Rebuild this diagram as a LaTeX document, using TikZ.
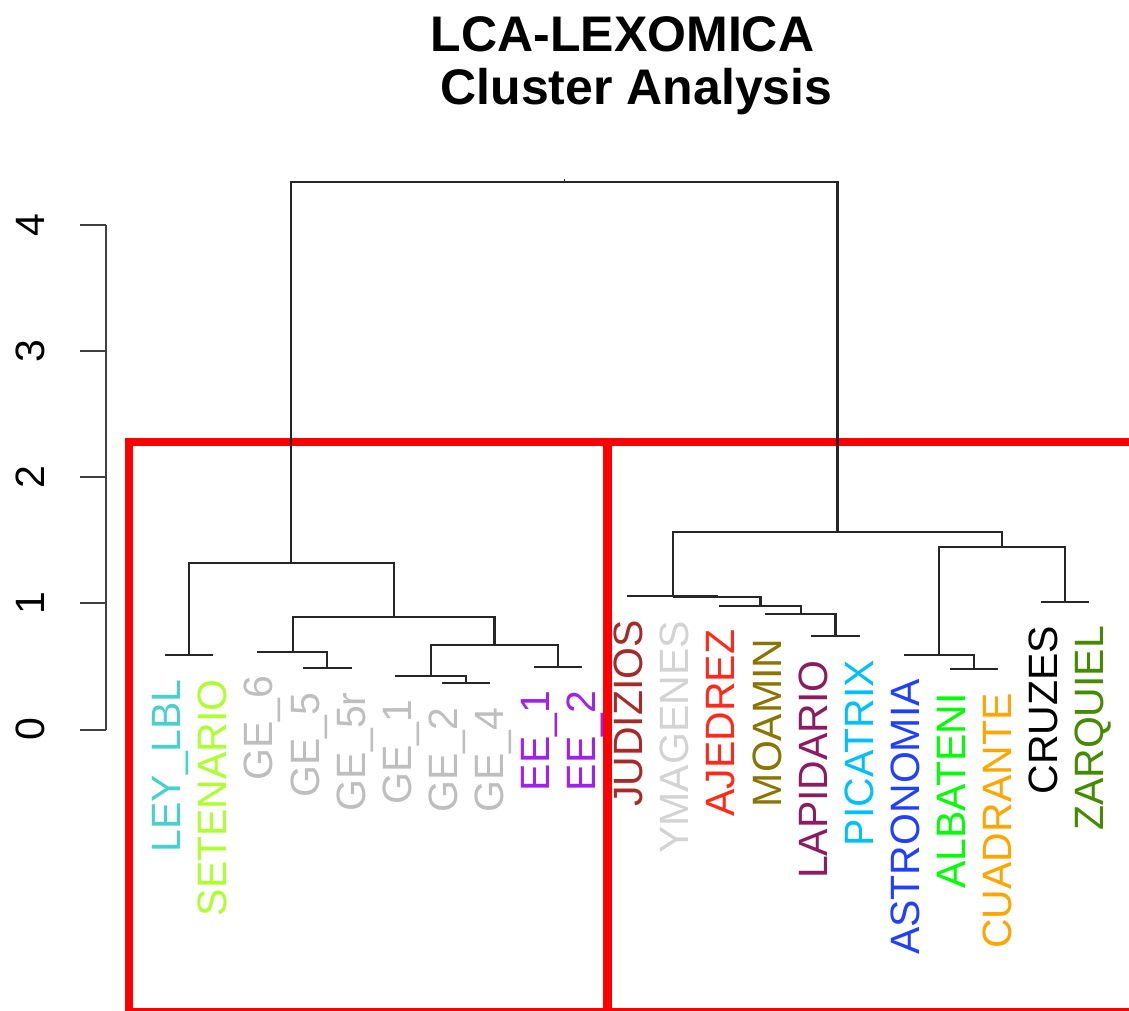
\documentclass[tikz,border=0pt]{standalone}
\usepackage{fontspec}
\setmainfont{Liberation Sans}
\definecolor{cLEY}{HTML}{48D1CC}
\definecolor{cSET}{HTML}{ADFF2F}
\definecolor{cGE}{HTML}{BEBEBE}
\definecolor{cEE}{HTML}{A020F0}
\definecolor{cJUD}{HTML}{A52A2A}
\definecolor{cYMA}{HTML}{D3D3D3}
\definecolor{cAJE}{HTML}{FF2A1A}
\definecolor{cMOA}{HTML}{8B7500}
\definecolor{cLAP}{HTML}{8B1C62}
\definecolor{cPIC}{HTML}{00BFFF}
\definecolor{cAST}{HTML}{2040FF}
\definecolor{cALB}{HTML}{00FF00}
\definecolor{cCUA}{HTML}{FFA500}
\definecolor{cCRU}{HTML}{000000}
\definecolor{cZAR}{HTML}{458B00}
\begin{document}
\begin{tikzpicture}[x=1pt,y=-1pt,
  edge/.style={line width=2.2pt, black!85, line cap=rect},
  lab/.style={rotate=90, anchor=base east, inner sep=0pt, font=\fontsize{41}{41}\selectfont},
  ticklab/.style={rotate=90, anchor=base, inner sep=0pt, font=\fontsize{41}{41}\selectfont},
  titlefont/.style={anchor=base, inner sep=0pt, font=\fontsize{50}{50}\selectfont\bfseries},
  redbox/.style={draw=red, line width=8.5pt},
  axisline/.style={line width=2pt, black!75}]
\useasboundingbox (0,0) rectangle (1129,1010);

% ---------- title ----------
\node[titlefont] (title1) at (622.5,51) {LCA-LEXOMICA};
\node[titlefont] (title2) at (636.5,104) {Cluster Analysis};

% ---------- axis ----------
\coordinate (a4) at (106,225);
\coordinate (a3) at (106,351);
\coordinate (a2) at (106,477);
\coordinate (a1) at (106,603.3);
\coordinate (a0) at (106,729.5);
\draw[axisline] (a4) -- (a0);
\foreach \k in {0,...,4}{
  \draw[axisline] (a\k) -- ++(-26,0);
}
\node[ticklab] (n4) at (44,225) {4};
\node[ticklab] (n3) at (44,351) {3};
\node[ticklab] (n2) at (44,477) {2};
\node[ticklab] (n1) at (44,603.3) {1};
\node[ticklab] (n0) at (44,729.5) {0};

% ---------- leaves (at their parent's height) ----------
\coordinate (LEY) at (166,655);
\coordinate (SET) at (212.1,655);
\coordinate (GE6) at (258.2,651.7);
\coordinate (GE5) at (304.3,668.3);
\coordinate (GE5r) at (350.4,668.3);
\coordinate (GE1) at (396.5,675.7);
\coordinate (GE2) at (442.6,683.3);
\coordinate (GE4) at (488.7,683.3);
\coordinate (EE1) at (534.8,666.7);
\coordinate (EE2) at (580.9,666.7);
\coordinate (JUD) at (628,596);
\coordinate (YMA) at (674.1,597);
\coordinate (AJE) at (720.2,605.7);
\coordinate (MOA) at (766.3,614.3);
\coordinate (LAP) at (812.4,636);
\coordinate (PIC) at (858.5,636);
\coordinate (AST) at (904.6,655);
\coordinate (ALB) at (950.7,669.3);
\coordinate (CUA) at (996.8,669.3);
\coordinate (CRU) at (1042.4,601.7);
\coordinate (ZAR) at (1088.3,601.7);

% ---------- internal nodes ----------
\coordinate (L1) at (189.05,655);
\coordinate (G56) at (327.35,668.3);
\coordinate (G6) at (292.8,651.7);
\coordinate (G24) at (465.65,683.3);
\coordinate (G124) at (431.1,675.7);
\coordinate (EE) at (557.85,666.7);
\coordinate (GEE) at (494.5,645);
\coordinate (GALL) at (393.6,616.7);
\coordinate (LEFT) at (291.3,563.3);
\coordinate (W) at (835.45,636);
\coordinate (Z) at (800.9,614.3);
\coordinate (Y) at (760.55,605.7);
\coordinate (X) at (717.3,597);
\coordinate (J) at (672.65,596);
\coordinate (AC) at (973.75,669.3);
\coordinate (AAC) at (939.2,655);
\coordinate (CZ) at (1065.35,601.7);
\coordinate (R2) at (1002.3,547.3);
\coordinate (RIGHT) at (837.5,532.3);
\coordinate (ROOT) at (564.4,182);
\coordinate (ROOTtop) at (564.4,179);

% ---------- red boxes ----------
\draw[redbox] (129,442) rectangle (607.5,1012);
\draw[redbox] (607.5,442) rectangle (1140,1012);

% ---------- tree ----------
\draw[edge] (LEY) |- (L1) -| (SET);
\draw[edge] (GE5) |- (G56) -| (GE5r);
\draw[edge] (GE6) |- (G6) -| (G56);
\draw[edge] (GE2) |- (G24) -| (GE4);
\draw[edge] (GE1) |- (G124) -| (G24);
\draw[edge] (EE1) |- (EE) -| (EE2);
\draw[edge] (G124) |- (GEE) -| (EE);
\draw[edge] (G6) |- (GALL) -| (GEE);
\draw[edge] (L1) |- (LEFT) -| (GALL);
\draw[edge] (LAP) |- (W) -| (PIC);
\draw[edge] (MOA) |- (Z) -| (W);
\draw[edge] (AJE) |- (Y) -| (Z);
\draw[edge] (YMA) |- (X) -| (Y);
\draw[edge] (JUD) |- (J) -| (X);
\draw[edge] (ALB) |- (AC) -| (CUA);
\draw[edge] (AST) |- (AAC) -| (AC);
\draw[edge] (CRU) |- (CZ) -| (ZAR);
\draw[edge] (AAC) |- (R2) -| (CZ);
\draw[edge] (J) |- (RIGHT) -| (R2);
\draw[edge] (LEFT) |- (ROOT) -| (RIGHT);
\draw[line width=1pt, black!85] (ROOT) -- (ROOTtop);

% ---------- leaf labels ----------
\node[lab, text=cLEY] (lLEY) at ([shift={(14.7,24)}]LEY) {LEY\_LBL};
\node[lab, text=cSET] (lSET) at ([shift={(14.7,24)}]SET) {SETENARIO};
\node[lab, text=cGE] (lGE6) at ([shift={(14.7,24)}]GE6) {GE\_6};
\node[lab, text=cGE] (lGE5) at ([shift={(14.7,24)}]GE5) {GE\_5};
\node[lab, text=cGE] (lGE5r) at ([shift={(14.7,24)}]GE5r) {GE\_5r};
\node[lab, text=cGE] (lGE1) at ([shift={(14.7,24)}]GE1) {GE\_1};
\node[lab, text=cGE] (lGE2) at ([shift={(14.7,24)}]GE2) {GE\_2};
\node[lab, text=cGE] (lGE4) at ([shift={(14.7,24)}]GE4) {GE\_4};
\node[lab, text=cEE] (lEE1) at ([shift={(14.7,24)}]EE1) {EE\_1};
\node[lab, text=cEE] (lEE2) at ([shift={(14.7,24)}]EE2) {EE\_2};
\node[lab, text=cJUD] (lJUD) at ([shift={(14.7,24)}]JUD) {JUDIZIOS};
\node[lab, text=cYMA] (lYMA) at ([shift={(14.7,24)}]YMA) {YMAGENES};
\node[lab, text=cAJE] (lAJE) at ([shift={(14.7,24)}]AJE) {AJEDREZ};
\node[lab, text=cMOA] (lMOA) at ([shift={(14.7,24)}]MOA) {MOAMIN};
\node[lab, text=cLAP] (lLAP) at ([shift={(14.7,24)}]LAP) {LAPIDARIO};
\node[lab, text=cPIC] (lPIC) at ([shift={(14.7,24)}]PIC) {PICATRIX};
\node[lab, text=cAST] (lAST) at ([shift={(14.7,24)}]AST) {ASTRONOMIA};
\node[lab, text=cALB] (lALB) at ([shift={(14.7,24)}]ALB) {ALBATENI};
\node[lab, text=cCUA] (lCUA) at ([shift={(14.7,24)}]CUA) {CUADRANTE};
\node[lab, text=cCRU] (lCRU) at ([shift={(14.7,24)}]CRU) {CRUZES};
\node[lab, text=cZAR] (lZAR) at ([shift={(14.7,24)}]ZAR) {ZARQUIEL};
\end{tikzpicture}
\end{document}
